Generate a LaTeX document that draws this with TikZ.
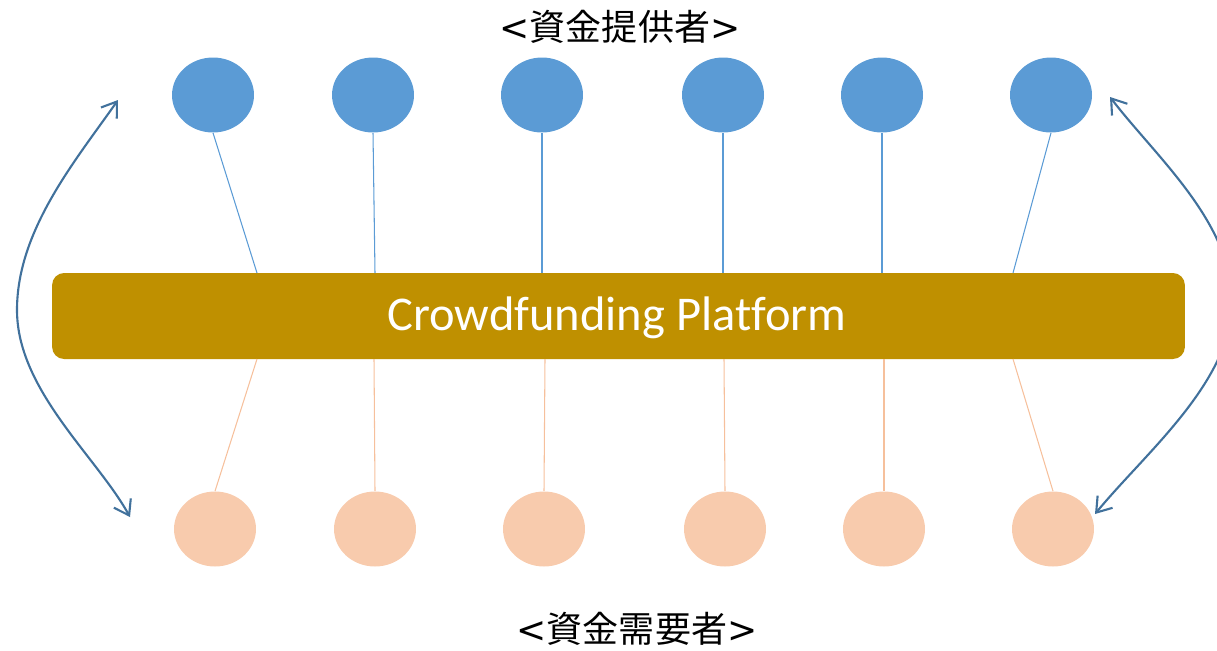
\documentclass[tikz,border=0pt]{standalone}
\usepackage{fontspec}
\setmainfont[Ligatures=NoCommon]{Carlito}
\newfontfamily\jpfont{Noto Sans CJK JP}
\newfontfamily\brfont{DejaVu Sans}
\usetikzlibrary{shapes.geometric,arrows.meta}
\definecolor{provblue}{HTML}{5B9BD5}
\definecolor{needpeach}{HTML}{F8CBAD}
\definecolor{linepeach}{HTML}{F6C09C}
\definecolor{platgold}{HTML}{BF9000}
\definecolor{arrowblue}{HTML}{41719C}
\tikzset{
  provider/.style={ellipse, fill=provblue, draw=none, inner sep=0pt, minimum width=1.64cm, minimum height=1.5cm},
  needer/.style={ellipse, fill=needpeach, draw=none, inner sep=0pt, minimum width=1.64cm, minimum height=1.5cm},
  platbox/.style={rectangle, rounded corners=0.24cm, fill=platgold, draw=none, minimum width=22.66cm, minimum height=1.72cm},
  plattext/.style={text=white, inner sep=0pt, font=\fontsize{27.6pt}{33pt}\selectfont},
  upline/.style={draw=provblue, line width=0.6pt},
  downline/.style={draw=linepeach, line width=0.6pt},
  swap/.style={draw=arrowblue, line width=1.2pt, {Straight Barb[length=8pt,width=11pt]}-{Straight Barb[length=8pt,width=11pt]}},
  title/.style={font=\jpfont\fontsize{20.5pt}{25pt}\selectfont, inner sep=0pt}
}
\begin{document}
\begin{tikzpicture}[x=0.02cm, y=-0.02cm]
\useasboundingbox (0,0) rectangle (1217,650);
\node[title] (toptitle) at (620,27) {{\brfont <}資金提供者{\brfont >}};
\node[title] (bottitle) at (637,629) {{\brfont <}資金需要者{\brfont >}};
\node[platbox] (plat) at (618.5,316) {};
\node[plattext] (platlabel) at (617,318) {Crowdfunding Plat\kern0ptform};
\foreach \i/\x in {1/213,2/373,3/542,4/723,5/882,6/1051}
  \node[provider] (t\i) at (\x,95) {};
\foreach \i/\x in {1/215,2/375,3/544,4/725,5/884,6/1053}
  \node[needer] (b\i) at (\x,529) {};
\foreach \i/\x in {1/257,2/375,3/542,4/723,5/882,6/1013}
  \coordinate (pt\i) at (\x,273);
\foreach \i/\x in {1/257,2/374,3/545,4/724,5/884,6/1013}
  \coordinate (pb\i) at (\x,359);
\foreach \i in {1,...,6}{
  \draw[upline] (t\i.south) -- (pt\i);
  \draw[downline] (pb\i) -- (b\i.north);
}
\coordinate (la) at (118,100);
\coordinate (lm) at (17,310);
\coordinate (lb) at (130,517);
\coordinate (ra) at (1110,97);
\coordinate (rm) at (1232,302);
\coordinate (rb) at (1095,514);
\draw[swap] (la) .. controls (76,160) and (17,230) .. (lm) .. controls (17,390) and (97,457) .. (lb);
\draw[swap] (ra) .. controls (1156,157) and (1232,222) .. (rm) .. controls (1232,382) and (1145,453) .. (rb);
\end{tikzpicture}
\end{document}
